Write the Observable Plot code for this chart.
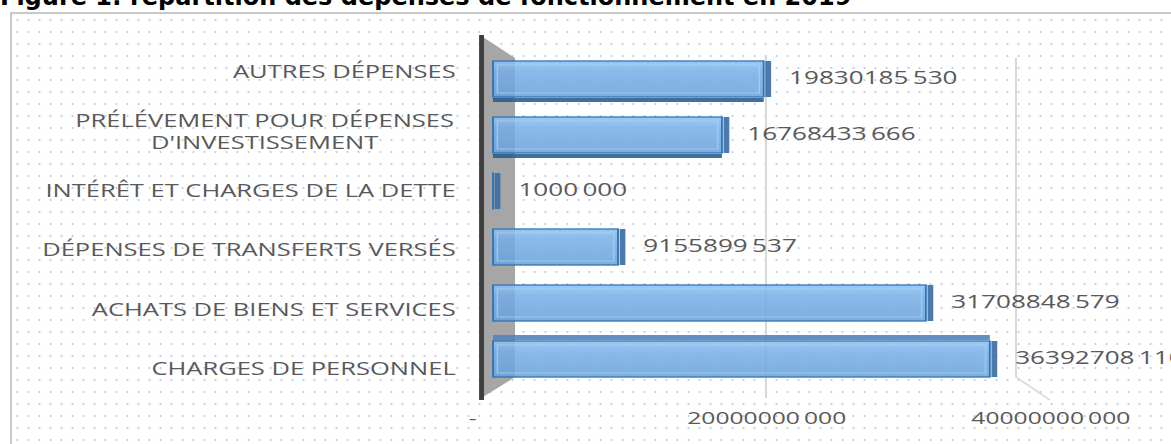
<!DOCTYPE html>
<html><head><meta charset="utf-8">
<script src="https://cdn.jsdelivr.net/npm/d3@7"></script>
<script src="https://cdn.jsdelivr.net/npm/@observablehq/plot@0.6"></script>
<style>
html,body{margin:0;padding:0;width:1171px;height:444px;overflow:hidden;background:#fff;}
#title{position:relative;z-index:2;height:12px;overflow:hidden;white-space:nowrap;font-family:"DejaVu Sans",sans-serif;font-weight:bold;font-size:24px;line-height:24px;color:#000;}
#title span{position:absolute;left:0;top:-15px;}
#box{position:absolute;left:10px;top:12px;width:1200px;height:480px;border-left:2px solid #c9c9c9;border-top:2px solid #c9c9c9;
  background-color:#fff;
  background-image:radial-gradient(1.6px 0.9px at 50% 50%, #bccbe8 55%, rgba(255,255,255,0) 100%);
  background-size:11px 12px;}
#chart{position:relative;z-index:1;}
#chart svg{transform:scaleX(1.45);transform-origin:0 0;overflow:visible;background:transparent;}
</style></head><body>
<div id="box"></div>
<div id="title"><span>Figure 1: répartition des dépenses de fonctionnement en 2019</span></div>
<div id="chart"></div>
<script>
const categories = [
  "AUTRES DÉPENSES",
  "PRÉLÉVEMENT POUR DÉPENSES D'INVESTISSEMENT",
  "INTÉRÊT ET CHARGES DE LA DETTE",
  "DÉPENSES DE TRANSFERTS VERSÉS",
  "ACHATS DE BIENS ET SERVICES",
  "CHARGES DE PERSONNEL"
];
const values = [19830185530, 16768433666, 1000000, 9155899537, 31708848579, 36392708110];
const xTicks = [0, 20000000000, 40000000000];

const rows = categories.map((c, i) => ({category: c, value: values[i]}));

const W = 808, H = 432, mT = 26.6, mB = 44.7, PAD = 0.35;
const step = (H - mT - mB) / (categories.length + PAD);
const bw = step * (1 - PAD);

const fmt = v => v === 0 ? "-" : String(v).replace(/(\d{3})$/, "\u2009$1");
const wrap = c => c.length > 30 ? c.replace(/ (D'\S+)$/, "\n$1") : c;
const grey = "#595959";

function defs() {
  const d = d3.create("svg:defs");
  d.html(`<linearGradient id="barGrad" x1="0" y1="0" x2="0" y2="1">
    <stop offset="0" stop-color="#8cc1f3"/>
    <stop offset="0.3" stop-color="#76aee6"/>
    <stop offset="1" stop-color="#68a1da"/></linearGradient>`);
  return d.node();
}

function wall(index, scales, vals, dim) {
  const x0 = scales.x(0), top = dim.marginTop, bot = dim.height - dim.marginBottom;
  const x20 = scales.x(xTicks[1]), x40 = scales.x(xTicks[2]);
  const g = d3.create("svg:g");
  g.append("line").attr("x1", x20).attr("x2", x20).attr("y1", top + 16.4).attr("y2", bot - 1.3)
    .attr("stroke", "#d9d9d9").attr("stroke-width", 1.4);
  g.append("polyline").attr("points", [[x40 - 15.9, top + 19.4], [x40 - 15.9, bot - 22.3], [x40 + 7.5, bot + 0.7]].join(" "))
    .attr("fill", "none").attr("stroke", "#d9d9d9").attr("stroke-width", 1.4);
  g.append("polygon").attr("points", [[x0 - 6.9, top - 1.6], [x0 + 15.2, top + 19.4], [x0 + 15.2, bot - 22.3], [x0 - 6.9, bot - 2.3]].join(" "))
    .attr("fill", "#a6a6a6");
  g.append("line").attr("x1", x0 - 7.9).attr("x2", x0 - 7.9).attr("y1", top - 3.6).attr("y2", bot + 0.7)
    .attr("stroke", "#3f3f3f").attr("stroke-width", 3.4);
  return g.node();
}

const labelMarks = categories.map((c, i) => {
  const wrapped = c.length > 30;
  return Plot.text([c], {
    y: d => d, text: wrap, frameAnchor: "left",
    textAnchor: wrapped ? "middle" : "end",
    dx: wrapped ? -158 : -26.2, dy: (i - 2.5) * 3.3,
    fontSize: 17.6, fill: grey, lineHeight: 1.26
  });
});

const tickDx = [-14.5, 0, 7.6];
const tickMarks = xTicks.map((t, i) => Plot.text([t], {
  x: d => d, text: fmt, frameAnchor: "bottom", dy: 24, dx: tickDx[i],
  fontSize: 17, fill: grey
}));

const chart = Plot.plot({
  width: W, height: H,
  marginLeft: 340, marginRight: 91.4, marginTop: mT, marginBottom: mB,
  x: {domain: [0, xTicks[2]], axis: null},
  y: {domain: categories, axis: null, padding: PAD},
  style: {background: "transparent", overflow: "visible", fontFamily: "'Open Sans', sans-serif"},
  marks: [
    defs,
    wall,
    Plot.barX(rows.slice(0, 2), {x: "value", y: "category", insetTop: bw - 5, dy: 5, fill: "#2d5e93", fillOpacity: 0.9}),
    Plot.barX(rows.slice(5), {x: "value", y: "category", insetBottom: bw - 6, dy: -6, fill: "#5184bd", fillOpacity: 0.9}),
    Plot.barX(rows, {x: "value", y: "category", fill: "url(#barGrad)", fillOpacity: 0.86, stroke: "#2e75b6", strokeWidth: 1.3}),
    Plot.barX(rows.filter(d => d.value > 1e9), {x: "value", y: "category", insetTop: 4, insetBottom: 4, insetLeft: 3, insetRight: 3,
      fill: "none", stroke: "#a9cdf0", strokeOpacity: 0.8, strokeWidth: 1}),
    Plot.tickX(rows, {x: "value", y: "category", dx: 2.6, stroke: "#3a6ba3", strokeWidth: 4, strokeOpacity: 0.9}),
    Plot.text(rows, {x: "value", y: "category", text: d => fmt(d.value), dx: 17, dy: -1, textAnchor: "start", fontSize: 18, fill: grey}),
    ...labelMarks,
    ...tickMarks
  ]
});
document.getElementById("chart").appendChild(chart);
</script>
</body></html>
